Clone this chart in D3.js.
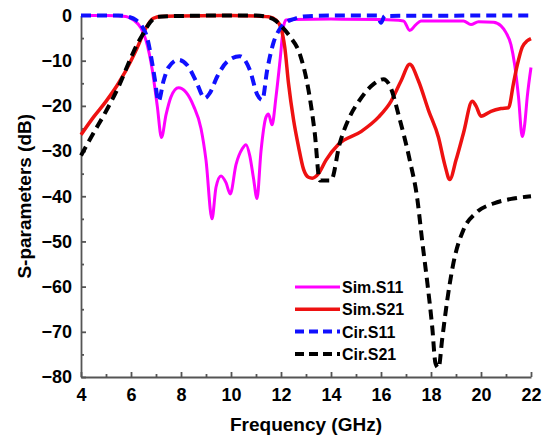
<!DOCTYPE html>
<html>
<head>
<meta charset="utf-8">
<script src="https://cdn.jsdelivr.net/npm/d3@7"></script>
<style>
  body { margin: 0; background: #fff; }
  text { font-family: "Liberation Sans", Arial, sans-serif; font-weight: bold; }
</style>
</head>
<body>
<div class="chart-container"></div>
<script>
//! DATA (frequency in GHz, S-parameters in dB)
const simS11Freq = [4, 5, 5.8, 6.1, 6.4, 6.6, 6.85, 7.05, 7.22, 7.4, 7.6, 7.9, 8.2, 8.5, 8.8, 9.0, 9.24, 9.4, 9.6, 9.8, 9.97, 10.2, 10.45, 10.6, 10.75, 10.9, 11.04, 11.2, 11.4, 11.5, 11.64, 11.8, 11.96, 12.1, 12.2, 12.5, 14, 16, 16.9, 17.15, 17.4, 17.6, 19.3, 19.6, 19.9, 20.5, 20.8, 21.0, 21.2, 21.35, 21.5, 21.65, 21.75, 21.85, 22]
const simS11Db   = [0, 0, -0.2, -1, -2.8, -5.5, -12, -20, -27, -22, -18, -16, -17, -20, -25, -32, -45, -38, -35.5, -37, -39.5, -33, -29.5, -28.6, -31, -36, -40.5, -30, -22.5, -21.8, -24.2, -18, -10, -2.5, -1, -0.9, -0.8, -0.9, -1.2, -3.3, -2, -1.2, -1.2, -2, -1.4, -1.5, -2.3, -3.8, -6.5, -11, -18, -26.8, -24, -18, -11.5]

const simS21Freq = [4, 4.5, 5, 5.5, 6, 6.3, 6.5, 6.7, 6.9, 7.2, 8, 10, 11, 11.5, 11.8, 12.0, 12.15, 12.3, 12.5, 12.7, 12.9, 13.1, 13.25, 13.5, 13.8, 14.3, 15.2, 15.9, 16.4, 16.8, 17.15, 17.5, 17.9, 18.3, 18.55, 18.75, 19.0, 19.3, 19.65, 19.8, 20.0, 20.4, 20.8, 21.1, 21.3, 21.45, 21.65, 21.85, 22]
const simS21Db   = [-26.4, -22.5, -19, -15, -10, -6.5, -3.8, -1.8, -0.6, -0.2, -0.1, 0, -0.1, -0.3, -1, -2.8, -7, -15, -23, -29, -34, -35.8, -36, -35, -32, -28.5, -25.7, -22.5, -19, -14.5, -10.8, -14.5, -21, -27, -33, -36.3, -32, -26, -19, -20, -22.3, -21.2, -20.6, -20.4, -15, -11, -7, -5.6, -5.1]

const cirS11Freq = [4, 5.5, 5.9, 6.2, 6.45, 6.65, 6.8, 6.95, 7.1, 7.3, 7.5, 7.9, 8.25, 8.6, 8.95, 9.15, 9.45, 9.85, 10.35, 10.75, 11.05, 11.25, 11.45, 11.7, 11.95, 12.2, 12.5, 12.9, 14, 15.85, 16.0, 16.15, 22]
const cirS11Db   = [0, 0, -0.3, -1, -2.5, -5, -9, -14, -19, -14.5, -11.5, -9.8, -11, -14.5, -18.3, -17.2, -13.5, -10.2, -9, -12, -17.5, -18.7, -12, -6, -3, -1.5, -0.8, -0.2, 0, 0, -1.6, -0.1, 0]

const cirS21Freq = [4, 4.5, 5, 5.5, 6, 6.3, 6.5, 6.7, 6.85, 7.1, 8, 10, 11, 11.5, 11.8, 12.0, 12.35, 12.75, 13.1, 13.35, 13.55, 14.0, 14.35, 14.75, 15.15, 15.7, 16.1, 16.35, 16.75, 17.15, 17.45, 17.65, 17.85, 18.05, 18.18, 18.3, 18.45, 18.65, 18.9, 19.3, 19.8, 20.5, 21.3, 22]
const cirS21Db   = [-31, -26, -21.2, -15.8, -9.3, -5.8, -3.9, -2, -1, -0.3, -0.1, 0, 0, -0.4, -1.2, -2.3, -4.6, -8.5, -16.5, -26, -36.5, -36.5, -28.3, -22.4, -18.7, -15.2, -14.1, -15.5, -23, -32, -40.5, -50, -59, -69, -77, -78, -71.5, -63, -54.7, -47.4, -43.7, -41.6, -40.5, -40]

const seriesNames  = ['Sim.S11', 'Sim.S21', 'Cir.S11', 'Cir.S21']
const seriesColors = ['#ff00ff', '#ee1111', '#1010ff', '#000000']

const xTicks = [4, 6, 8, 10, 12, 14, 16, 18, 20, 22]
const yTicks = [0, -10, -20, -30, -40, -50, -60, -70, -80]

//! CONSTS
const WIDTH = 543
const HEIGHT = 436
const LEFT = 81, RIGHT = 531, TOP = 15.5, BOTTOM = 377

const series = [
  { freq: simS11Freq, db: simS11Db, dash: null, width: 3 },
  { freq: simS21Freq, db: simS21Db, dash: null, width: 3.5 },
  { freq: cirS11Freq, db: cirS11Db, dash: '10,6', width: 4 },
  { freq: cirS21Freq, db: cirS21Db, dash: '10,6', width: 4 },
].map((s, i) => ({ ...s, name: seriesNames[i], color: seriesColors[i] }))

//! SVG
const svg = d3.select('.chart-container')
  .append('svg')
  .attr('width', WIDTH)
  .attr('height', HEIGHT)

//! SCALES
const xScale = d3.scaleLinear().domain([4, 22]).range([LEFT, RIGHT])
const yScale = d3.scaleLinear().domain([-80, 0]).range([BOTTOM, TOP])

//! AXES
const xAxis = d3.axisBottom(xScale)
  .tickValues(xTicks)
  .tickSizeInner(-5)
  .tickSizeOuter(0)
  .tickPadding(11)

const yAxis = d3.axisLeft(yScale)
  .tickValues(yTicks)
  .tickSizeInner(-5)
  .tickSizeOuter(0)
  .tickPadding(9)

const xMinor = d3.axisBottom(xScale)
  .tickValues(d3.range(5, 22, 2))
  .tickSize(-3)
  .tickFormat('')

const yMinor = d3.axisLeft(yScale)
  .tickValues(d3.range(-75, 0, 10))
  .tickSize(-3)
  .tickFormat('')

const styleAxis = g => {
  g.selectAll('path, line').attr('stroke', '#555').attr('stroke-width', 1.8)
  g.selectAll('text').attr('fill', '#000').style('font-size', '18px')
}

svg.append('g')
  .attr('transform', `translate(0,${BOTTOM})`)
  .call(xMinor)
  .call(g => g.select('.domain').remove())
  .call(styleAxis)

svg.append('g')
  .attr('transform', `translate(${LEFT},0)`)
  .call(yMinor)
  .call(g => g.select('.domain').remove())
  .call(styleAxis)

svg.append('g')
  .attr('id', 'x-axis')
  .attr('transform', `translate(0,${BOTTOM})`)
  .call(xAxis)
  .call(styleAxis)

svg.append('g')
  .attr('id', 'y-axis')
  .attr('transform', `translate(${LEFT},0)`)
  .call(yAxis)
  .call(styleAxis)

//! AXIS TITLES
svg.append('text')
  .attr('x', (LEFT + RIGHT) / 2)
  .attr('y', 431)
  .attr('text-anchor', 'middle')
  .style('font-size', '19px')
  .text('Frequency (GHz)')

svg.append('text')
  .attr('transform', `translate(31,${(TOP + BOTTOM) / 2}) rotate(-90)`)
  .attr('text-anchor', 'middle')
  .style('font-size', '19px')
  .text('S-parameters (dB)')

//! LINES
const line = d3.line()
  .x(d => xScale(d[0]))
  .y(d => yScale(d[1]))
  .curve(d3.curveMonotoneX)

svg.append('g')
  .selectAll('path')
  .data(series)
  .enter()
  .append('path')
  .attr('d', s => line(s.freq.map((f, i) => [f, s.db[i]])))
  .attr('fill', 'none')
  .attr('stroke', s => s.color)
  .attr('stroke-width', s => s.width)
  .attr('stroke-dasharray', s => s.dash)
  .attr('stroke-linejoin', 'round')

//! LEGEND
const legend = svg.append('g')
  .selectAll('g')
  .data(series)
  .enter()
  .append('g')
  .attr('transform', (s, i) => `translate(295,${287 + i * 22.3})`)

legend.append('line')
  .attr('x1', 0)
  .attr('x2', 45)
  .attr('stroke', s => s.color)
  .attr('stroke-width', s => s.width)
  .attr('stroke-dasharray', s => s.dash ? '9,5' : null)

legend.append('text')
  .attr('x', 47)
  .attr('y', 6)
  .style('font-size', '16px')
  .text(s => s.name)
</script>
</body>
</html>
